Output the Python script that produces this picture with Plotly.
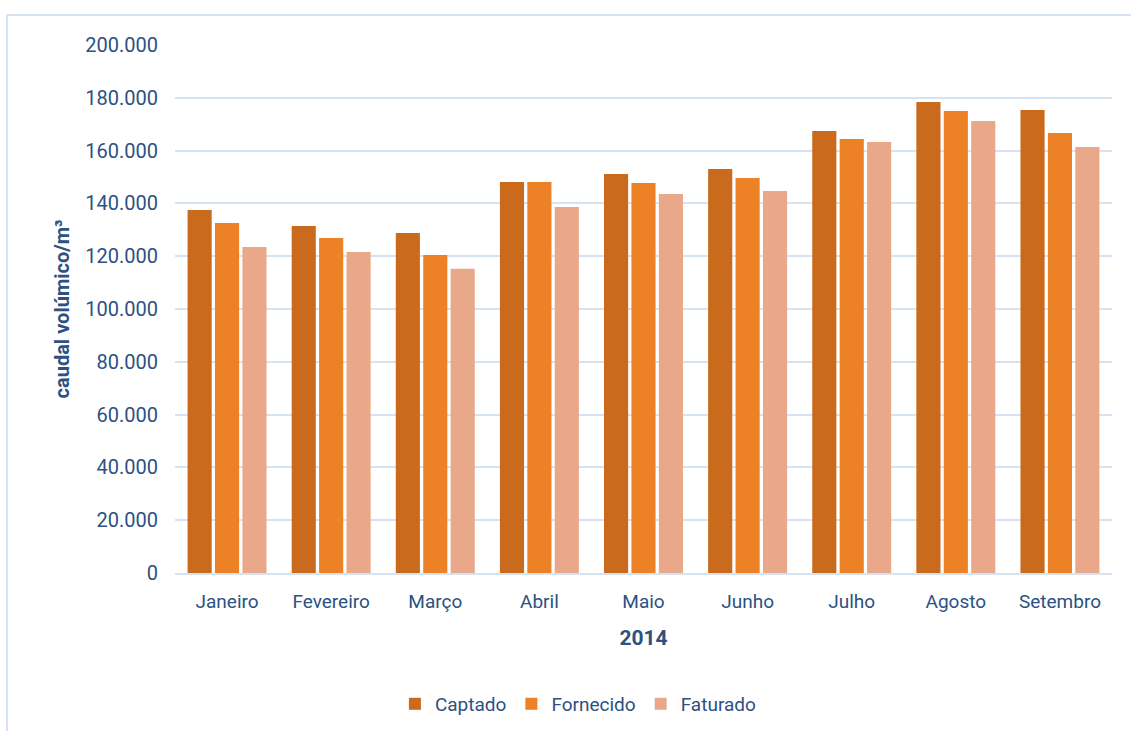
import plotly.graph_objects as go

months = ["Janeiro", "Fevereiro", "Março", "Abril", "Maio", "Junho", "Julho", "Agosto", "Setembro"]
captado = [137500, 131400, 128800, 148100, 151100, 153000, 167400, 178400, 175400]
fornecido = [132600, 126900, 120500, 148100, 147700, 149600, 164400, 175000, 166700]
faturado = [123500, 121600, 115200, 138600, 143600, 144700, 163300, 171200, 161400]
y_ticks = [0, 20000, 40000, 60000, 80000, 100000, 120000, 140000, 160000, 180000, 200000]

font_family = "Roboto, Arial"
text_color = "#2C5182"

fig = go.Figure()
series = [("Captado", captado, "#C96A1C"), ("Fornecido", fornecido, "#EC8125"), ("Faturado", faturado, "#E9A88A")]
for name, vals, color in series:
    fig.add_trace(go.Bar(x=months, y=vals, name=name, marker=dict(color=color, line=dict(width=0))))

fig.update_layout(
    width=1131, height=731,
    margin=dict(l=175, r=19, t=45, b=158, autoexpand=False),
    paper_bgcolor="white", plot_bgcolor="white",
    separators=",.",
    barmode="group", bargap=0.21, bargroupgap=0.12,
    font=dict(family=font_family, color=text_color, size=19),
    showlegend=True,
    legend=dict(orientation="h", x=0.43, xanchor="center", y=-0.248, yanchor="middle",
                font=dict(size=19, color=text_color), itemwidth=30, traceorder="normal"),
    xaxis=dict(showgrid=False, showline=True, linecolor="#D6E3F3", linewidth=2, automargin=False,
               tickfont=dict(size=19), ticks="", ticklabelstandoff=10,
               title=dict(text="<b>2014</b>", font=dict(size=21), standoff=19)),
    yaxis=dict(range=[0, 200000], tickvals=y_ticks, tickformat=",d", automargin=False,
               showgrid=True, gridcolor="#D6E3F3", gridwidth=2, zeroline=False,
               tickfont=dict(size=20), ticks="", ticklabelstandoff=16,
               title=dict(text="<b>caudal volúmico/m³</b>", font=dict(size=20), standoff=10)),
)

# outer chart frame
fig.add_shape(type="line", xref="paper", yref="paper", x0=-0.1793, x1=1.03, y0=1.0568, y1=1.0568,
              line=dict(color="#D6E3F3", width=2))
fig.add_shape(type="line", xref="paper", yref="paper", x0=-0.1793, x1=-0.1793, y0=1.0568, y1=-0.32,
              line=dict(color="#D6E3F3", width=2))

fig.write_html("out.html")
